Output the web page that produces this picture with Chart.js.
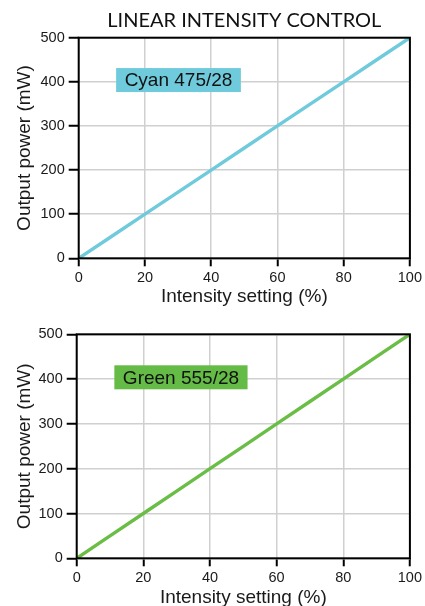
<!DOCTYPE html>
<html><head><meta charset="utf-8">
<script src="https://cdn.jsdelivr.net/npm/chart.js@4"></script>
<style>
html,body{margin:0;padding:0;background:#fff;overflow:hidden;width:425px;height:606px}
.wrap{position:absolute;left:0;width:425px;height:310px}
#w1{top:0}
#w2{top:296px}
</style></head><body>
<div class="wrap" id="w1"><canvas id="c1"></canvas></div>
<div class="wrap" id="w2"><canvas id="c2"></canvas></div>
<script>
const titleText = 'LINEAR INTENSITY CONTROL';
const intensity = [0, 10, 20, 30, 40, 50, 60, 70, 80, 90, 100];
const cyanPower = [0, 50, 100, 150, 200, 250, 300, 350, 400, 450, 500];
const greenPower = [0, 50, 100, 150, 200, 250, 300, 350, 400, 450, 500];
const xTickValues = [0, 20, 40, 60, 80, 100];
const yTickValues = [0, 100, 200, 300, 400, 500];
const xAxisTitle = 'Intensity setting (%)';
const yAxisTitle = 'Output power (mW)';
const seriesLabels = ['Cyan 475/28', 'Green 555/28'];

const FONT = "'Liberation Sans', Arial, Helvetica, sans-serif";

const frame = {
  id: 'frame',
  afterDatasetsDraw(chart) {
    const {ctx, chartArea: a} = chart;
    ctx.save();
    ctx.strokeStyle = '#000';
    ctx.lineWidth = 2;
    ctx.strokeRect(a.left, a.top, a.right - a.left, a.bottom - a.top);
    ctx.restore();
  }
};

const tagBox = {
  id: 'tagBox',
  afterDatasetsDraw(chart, args, o) {
    const {ctx, scales} = chart;
    const x0 = scales.x.getPixelForValue(o.x);
    const yc = scales.y.getPixelForValue(o.y);
    ctx.save();
    ctx.font = o.fontSize + 'px ' + FONT;
    const tw = ctx.measureText(o.text).width;
    const w = tw + 2 * o.pad, h = o.h;
    ctx.fillStyle = o.bg;
    ctx.fillRect(x0, yc - h / 2, w, h);
    ctx.fillStyle = '#111';
    ctx.textBaseline = 'middle';
    ctx.textAlign = 'left';
    ctx.fillText(o.text, x0 + o.pad, yc + 1);
    ctx.restore();
  }
};

function makeChart(id, values, color, label, tagBg, geo, withTitle) {
  return new Chart(document.getElementById(id), {
    type: 'line',
    data: {
      datasets: [{
        data: intensity.map((x, i) => ({x: x, y: values[i]})),
        borderColor: color,
        borderWidth: 3.4,
        pointRadius: 0,
        tension: 0,
        fill: false
      }]
    },
    options: {
      responsive: true,
      maintainAspectRatio: false,
      animation: false,
      events: [],
      layout: {padding: {left: 0, right: 15, top: geo.padTop, bottom: 0}},
      plugins: {
        legend: {display: false},
        tooltip: {enabled: false},
        title: {
          display: withTitle,
          text: titleText,
          fullSize: false,
          color: '#111',
          font: {family: "Lato, 'Open Sans', sans-serif", size: 20, weight: 'normal', lineHeight: 1.2},
          padding: {top: 9, bottom: 4.7}
        },
        tagBox: {text: label, bg: tagBg, x: 11.3, y: 404, fontSize: 19, pad: 8.5, h: 24}
      },
      scales: {
        x: {
          type: 'linear', min: 0, max: 100,
          afterBuildTicks: s => { s.ticks = xTickValues.map(v => ({value: v})); },
          afterFit: s => { s.height = geo.xh; },
          border: {display: false},
          grid: {color: '#d0d0d0', lineWidth: 1.5, tickColor: '#000', tickLength: 8, tickWidth: 2},
          ticks: {color: '#1a1a1a', font: {family: FONT, size: 14.5}, padding: 3, maxRotation: 0},
          title: {display: true, text: xAxisTitle, color: '#1a1a1a', font: {family: FONT, size: 19}, padding: {top: 0, bottom: geo.xtPad}}
        },
        y: {
          type: 'linear', min: 0, max: 500,
          afterBuildTicks: s => { s.ticks = yTickValues.map(v => ({value: v})); },
          afterFit: s => { s.width = geo.yw; },
          border: {display: false},
          grid: {color: '#d0d0d0', lineWidth: 1.5, tickColor: '#000', tickLength: 10, tickWidth: 2},
          ticks: {color: '#1a1a1a', font: {family: FONT, size: 14.5}, padding: 4},
          title: {display: true, text: yAxisTitle, color: '#1a1a1a', font: {family: FONT, size: 19}, padding: {top: 13.5, bottom: 0}}
        }
      }
    },
    plugins: [frame, tagBox]
  });
}

makeChart('c1', cyanPower, '#6fcbdc', seriesLabels[0], '#6fcbdc',
  {padTop: 0, xh: 51.7, yw: 78.7, xtPad: 2}, true);
makeChart('c2', greenPower, '#6abd45', seriesLabels[1], '#64bb45',
  {padTop: 38.3, xh: 47.7, yw: 76.7, xtPad: -3}, false);
</script>
</body></html>
